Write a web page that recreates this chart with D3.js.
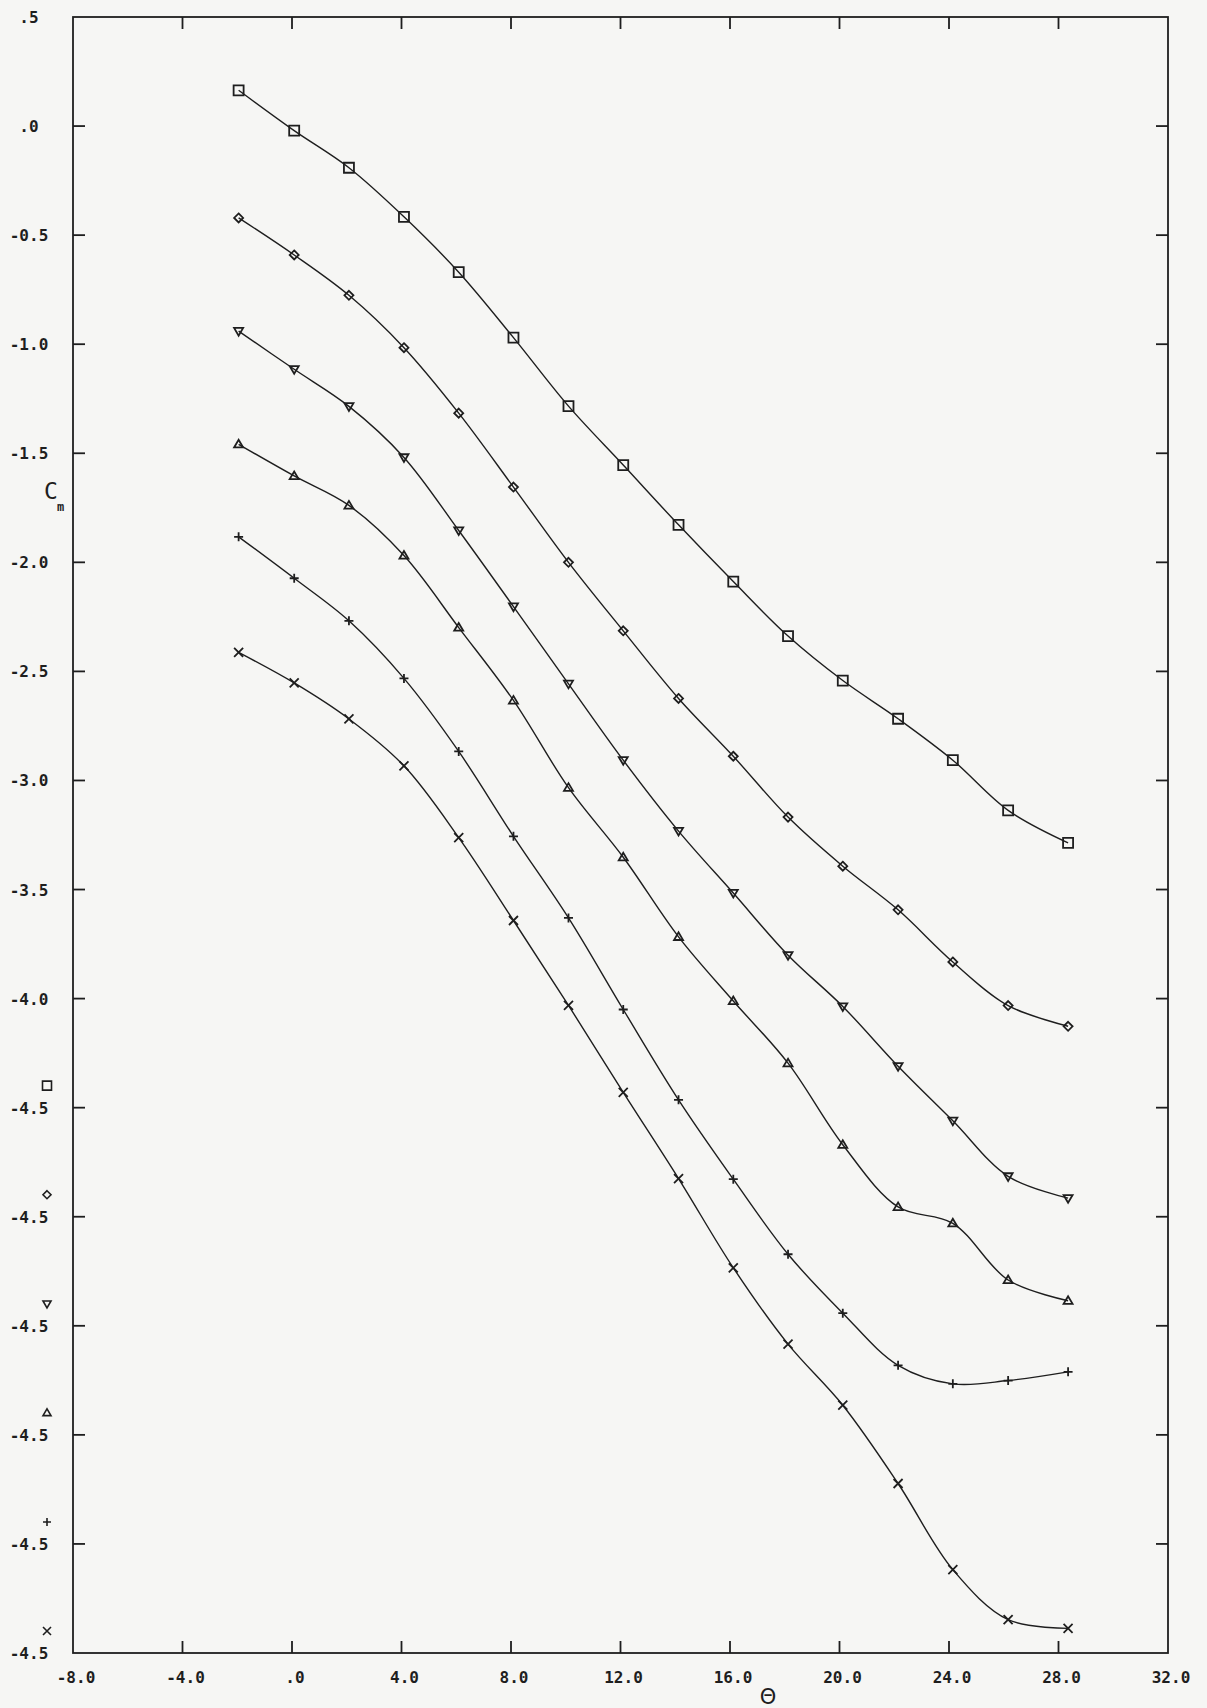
<!DOCTYPE html>
<html>
<head>
<meta charset="utf-8">
<script src="https://cdn.jsdelivr.net/npm/d3@7"></script>
<style>
  body { margin: 0; background: #f6f6f4; }
  svg { display: block; }
</style>
</head>
<body>
<script>
// theta (deg) at which each curve was sampled
var theta = [-1.95, 0.08, 2.08, 4.09, 6.09, 8.09, 10.1, 12.1, 14.12, 16.12, 18.12, 20.12, 22.14, 24.14, 26.16, 28.35];

// Cm (curves are stacked with offsets)
var cmSquare  = [0.164, -0.021, -0.191, -0.416, -0.670, -0.970, -1.284, -1.554, -1.828, -2.088, -2.338, -2.542, -2.717, -2.907, -3.137, -3.286];
var cmDiamond = [-0.421, -0.591, -0.776, -1.016, -1.316, -1.655, -2.000, -2.314, -2.624, -2.889, -3.168, -3.393, -3.593, -3.832, -4.032, -4.127];
var cmTriDown = [-0.940, -1.115, -1.285, -1.519, -1.854, -2.203, -2.557, -2.907, -3.232, -3.516, -3.801, -4.036, -4.310, -4.560, -4.815, -4.915];
var cmTriUp   = [-1.459, -1.604, -1.739, -1.969, -2.299, -2.633, -3.033, -3.352, -3.717, -4.011, -4.296, -4.670, -4.955, -5.030, -5.290, -5.385];
var cmPlus    = [-1.883, -2.073, -2.268, -2.532, -2.867, -3.256, -3.630, -4.050, -4.464, -4.828, -5.172, -5.442, -5.681, -5.766, -5.751, -5.711];
var cmCross   = [-2.413, -2.553, -2.718, -2.933, -3.262, -3.642, -4.031, -4.430, -4.825, -5.234, -5.584, -5.864, -6.223, -6.618, -6.847, -6.887];

var xTicks = [-8, -4, 0, 4, 8, 12, 16, 20, 24, 28, 32];
var xTickLabels = ["-8.0", "-4.0", ".0", "4.0", "8.0", "12.0", "16.0", "20.0", "24.0", "28.0", "32.0"];
var yTicks = [0.5, 0, -0.5, -1, -1.5, -2, -2.5, -3, -3.5, -4, -4.5, -5, -5.5, -6, -6.5, -7];
var yTickLabels = [".5", ".0", "-0.5", "-1.0", "-1.5", "-2.0", "-2.5", "-3.0", "-3.5", "-4.0",
                   "-4.5", "-4.5", "-4.5", "-4.5", "-4.5", "-4.5"];

var width = 1207;
var height = 1708;
var ink = "#1e1e1e";

var svg = d3.select("body").append("svg")
	.attr("width", width)
	.attr("height", height);

var x = d3.scaleLinear().domain([-8, 32]).range([73, 1168]);
var y = d3.scaleLinear().domain([0.5, -7]).range([17, 1653]);

// frame
svg.append("rect")
	.attr("x", x(-8)).attr("y", y(0.5))
	.attr("width", x(32) - x(-8)).attr("height", y(-7) - y(0.5))
	.attr("fill", "none")
	.attr("stroke", ink)
	.attr("stroke-width", 1.8);

// inward ticks on all four sides
var tl = 12;
var ticks = svg.append("g").attr("stroke", ink).attr("stroke-width", 1.8);
xTicks.slice(1, -1).forEach(function(t) {
	ticks.append("line").attr("x1", x(t)).attr("x2", x(t)).attr("y1", y(-7)).attr("y2", y(-7) - tl);
	ticks.append("line").attr("x1", x(t)).attr("x2", x(t)).attr("y1", y(0.5)).attr("y2", y(0.5) + tl);
});
yTicks.slice(1, -1).forEach(function(t) {
	ticks.append("line").attr("y1", y(t)).attr("y2", y(t)).attr("x1", x(-8)).attr("x2", x(-8) + tl);
	ticks.append("line").attr("y1", y(t)).attr("y2", y(t)).attr("x1", x(32)).attr("x2", x(32) - tl);
});

// tick labels
svg.append("g").selectAll("text")
	.data(xTicks)
	.enter().append("text")
	.attr("x", function(d) { return x(d) + 3; })
	.attr("y", 1683)
	.attr("text-anchor", "middle")
	.attr("font-family", "DejaVu Sans Mono")
	.attr("font-weight", "bold")
	.attr("font-size", 16)
	.attr("fill", ink)
	.text(function(d, i) { return xTickLabels[i]; });

svg.append("g").selectAll("text")
	.data(yTicks)
	.enter().append("text")
	.attr("x", 29)
	.attr("y", function(d) { return y(d) + 6; })
	.attr("text-anchor", "middle")
	.attr("font-family", "DejaVu Sans Mono")
	.attr("font-weight", "bold")
	.attr("font-size", 16)
	.attr("fill", ink)
	.text(function(d, i) { return yTickLabels[i]; });

// axis titles
svg.append("text")
	.attr("x", 44).attr("y", 499)
	.attr("font-family", "DejaVu Sans Mono")
	.attr("font-size", 23)
	.attr("fill", ink)
	.text("C");
svg.append("text")
	.attr("x", 57).attr("y", 511)
	.attr("font-family", "DejaVu Sans Mono")
	.attr("font-weight", "bold")
	.attr("font-size", 12)
	.attr("fill", ink)
	.text("m");
svg.append("text")
	.attr("x", 768).attr("y", 1704)
	.attr("text-anchor", "middle")
	.attr("font-family", "DejaVu Sans")
	.attr("font-size", 21)
	.attr("fill", ink)
	.text("\u0398");

// marker shapes
function markerPath(kind, s) {
	if (kind == "square") return "M" + (-s) + "," + (-s) + "h" + 2 * s + "v" + 2 * s + "h" + (-2 * s) + "Z";
	if (kind == "diamond") return "M0," + (-s) + "L" + s + ",0L0," + s + "L" + (-s) + ",0Z";
	if (kind == "triDown") return "M" + (-s) + "," + (-0.7 * s) + "L" + s + "," + (-0.7 * s) + "L0," + s + "Z";
	if (kind == "triUp") return "M" + (-s) + "," + (0.7 * s) + "L" + s + "," + (0.7 * s) + "L0," + (-s) + "Z";
	if (kind == "plus") return "M" + (-s) + ",0H" + s + "M0," + (-s) + "V" + s;
	return "M" + (-s) + "," + (-s) + "L" + s + "," + s + "M" + (-s) + "," + s + "L" + s + "," + (-s);
}

var series = [
	{ kind: "square", values: cmSquare, size: 5 },
	{ kind: "diamond", values: cmDiamond, size: 4.5 },
	{ kind: "triDown", values: cmTriDown, size: 4.5 },
	{ kind: "triUp", values: cmTriUp, size: 4.5 },
	{ kind: "plus", values: cmPlus, size: 4.5 },
	{ kind: "cross", values: cmCross, size: 4.5 }
];

var line = d3.line()
	.x(function(d) { return x(d[0]); })
	.y(function(d) { return y(d[1]); })
	.curve(d3.curveCatmullRom.alpha(0.5));

series.forEach(function(s, k) {
	var pts = theta.map(function(t, i) { return [t, s.values[i]]; });
	svg.append("path")
		.attr("d", line(pts))
		.attr("fill", "none")
		.attr("stroke", ink)
		.attr("stroke-width", 1.4);

	svg.append("g").selectAll("path")
		.data(pts)
		.enter().append("path")
		.attr("transform", function(d) { return "translate(" + x(d[0]) + "," + y(d[1]) + ")"; })
		.attr("d", markerPath(s.kind, s.size))
		.attr("fill", "none")
		.attr("stroke", ink)
		.attr("stroke-width", 1.8);

	// legend marker above each repeated -4.5 label
	svg.append("path")
		.attr("transform", "translate(47," + (y(yTicks[10 + k]) - 22) + ")")
		.attr("d", markerPath(s.kind, s.size - 0.5))
		.attr("fill", "none")
		.attr("stroke", ink)
		.attr("stroke-width", 1.6);
});
</script>
</body>
</html>
